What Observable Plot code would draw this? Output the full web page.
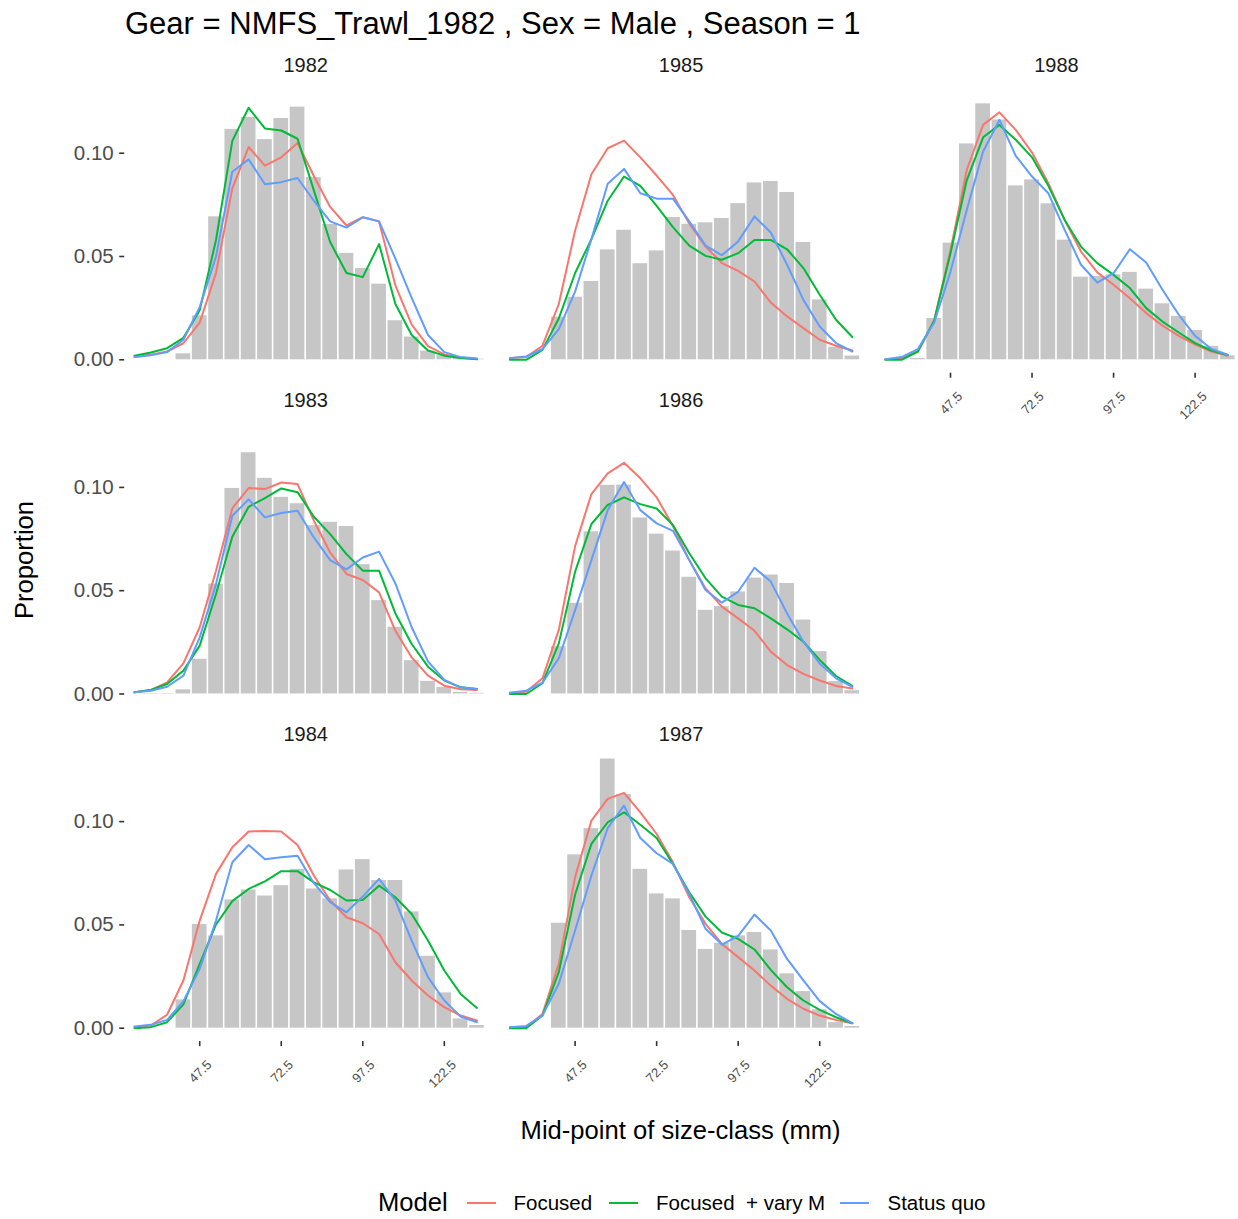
<!DOCTYPE html>
<html>
<head>
<meta charset="utf-8">
<script src="https://cdn.jsdelivr.net/npm/d3@7"></script>
<script src="https://cdn.jsdelivr.net/npm/@observablehq/plot@0.6"></script>
<style>
  body { margin: 0; background: #fff; font-family: "Liberation Sans", Arial, sans-serif; }
  #wrap { position: relative; width: 1238px; height: 1219px; overflow: hidden; }
  #title { position: absolute; left: 125px; top: 0; height: 48px; line-height: 48px; font-size: 31px; color: #000; white-space: nowrap; }
  #chart { position: absolute; left: 0; top: 48px; }
  #ylab { position: absolute; left: 25px; top: 560px; transform: translate(-50%, -50%) rotate(-90deg); font-size: 25.6px; line-height: 1; white-space: nowrap; color: #000; }
  #xlab { position: absolute; left: 680.6px; top: 1131px; transform: translate(-50%, -50%); font-size: 25.6px; line-height: 1; white-space: nowrap; color: #000; }
  .lg { position: absolute; top: 1203px; transform: translateY(-50%); line-height: 1; white-space: pre; color: #000; }
  .sw { position: absolute; top: 1202px; height: 2px; }
</style>
</head>
<body>
<div id="wrap">
  <div id="title">Gear = NMFS_Trawl_1982 , Sex = Male , Season = 1</div>
  <div id="chart"></div>
  <div id="ylab">Proportion</div>
  <div id="xlab">Mid-point of size-class (mm)</div>
  <div id="legend"></div>
</div>
<script>
// ---- data ----
const years = [1982, 1983, 1984, 1985, 1986, 1987, 1988];
const sizeMid = [27.5,32.5,37.5,42.5,47.5,52.5,57.5,62.5,67.5,72.5,77.5,82.5,87.5,92.5,97.5,102.5,107.5,112.5,117.5,122.5,127.5,132.5];
const xTicks = [47.5, 72.5, 97.5, 122.5];
const yTicks = [0, 0.05, 0.10];
const modelNames = ["Focused", "Focused  + vary M", "Status quo"];

const obs1982 = [0,0,0,0.0029,0.0213,0.0692,0.1115,0.1174,0.1066,0.1168,0.1223,0.0882,0.0655,0.0515,0.0442,0.0366,0.0189,0.011,0.0042,0.002,0.001,0.0003];
const foc1982 = [0.0013,0.0025,0.004,0.008,0.018,0.042,0.083,0.103,0.094,0.098,0.105,0.089,0.074,0.065,0.069,0.067,0.036,0.017,0.0066,0.0026,0.001,0.0005];
const vm1982  = [0.002,0.0035,0.0056,0.0106,0.024,0.058,0.106,0.122,0.112,0.111,0.107,0.082,0.057,0.042,0.040,0.056,0.027,0.012,0.0045,0.002,0.0008,0.0002];
const sq1982  = [0.0013,0.0022,0.0037,0.0097,0.0255,0.050,0.091,0.097,0.085,0.086,0.088,0.077,0.067,0.064,0.069,0.067,0.049,0.030,0.012,0.0037,0.0013,0.0006];

const obs1983 = [0,0.0002,0.0002,0.002,0.0168,0.0532,0.0995,0.1168,0.1044,0.0952,0.0921,0.0815,0.0831,0.0811,0.0626,0.0452,0.0323,0.0161,0.0061,0.0032,0.0008,0.0003];
const foc1983 = [0.0008,0.0019,0.0056,0.0148,0.0323,0.0597,0.0898,0.0997,0.0992,0.1024,0.1016,0.0839,0.0685,0.0581,0.0552,0.0492,0.0306,0.0177,0.0089,0.004,0.0023,0.0019];
const vm1983  = [0.0008,0.0019,0.0048,0.0113,0.0234,0.0484,0.0761,0.0906,0.0948,0.0995,0.0977,0.0858,0.0774,0.0677,0.0597,0.0597,0.039,0.0242,0.0132,0.0065,0.0032,0.0024];
const sq1983  = [0.0008,0.0016,0.0035,0.0089,0.0274,0.0532,0.0863,0.0942,0.0855,0.0876,0.0887,0.0758,0.0648,0.0603,0.0661,0.0689,0.0535,0.0323,0.0158,0.0068,0.0032,0.0024];

const obs1984 = [0,0,0,0.0137,0.0502,0.0447,0.0621,0.0669,0.064,0.069,0.0769,0.0674,0.0626,0.0766,0.0816,0.0715,0.0715,0.0563,0.0348,0.0171,0.0045,0.0013];
const foc1984 = [0.0005,0.0013,0.0065,0.0231,0.0521,0.0747,0.0876,0.0952,0.0955,0.0952,0.0887,0.0739,0.0618,0.0537,0.0508,0.0456,0.0319,0.0231,0.0158,0.0102,0.0061,0.0037];
const vm1984  = [0,0.0005,0.0029,0.0115,0.0311,0.0502,0.0615,0.0674,0.0711,0.076,0.076,0.0706,0.0669,0.0618,0.0621,0.069,0.0634,0.0553,0.0424,0.0279,0.0166,0.0098];
const sq1984  = [0.0008,0.0016,0.004,0.0131,0.0287,0.0521,0.0803,0.0887,0.0818,0.0827,0.0835,0.0702,0.061,0.0561,0.0637,0.0723,0.0618,0.0424,0.0247,0.0134,0.0056,0.0029];

const obs1985 = [0,0,0,0.0206,0.0303,0.0379,0.0532,0.0627,0.0465,0.0527,0.0689,0.0656,0.0663,0.0684,0.0756,0.0856,0.0863,0.081,0.0568,0.029,0.0061,0.0018];
const foc1985 = [0.0008,0.0013,0.0068,0.027,0.0626,0.0898,0.1024,0.1061,0.098,0.0892,0.0798,0.066,0.0548,0.0468,0.043,0.0379,0.0277,0.021,0.0153,0.0097,0.0068,0.0045];
const vm1985  = [0,0,0.0048,0.02,0.042,0.0584,0.077,0.0887,0.0842,0.0745,0.0642,0.0553,0.0503,0.0484,0.0516,0.058,0.058,0.0535,0.0444,0.0315,0.0194,0.011];
const sq1985  = [0.0008,0.0016,0.0052,0.0148,0.033,0.0584,0.0852,0.0924,0.0806,0.078,0.078,0.067,0.0553,0.0506,0.0573,0.0694,0.0616,0.046,0.029,0.0161,0.0081,0.004];

const obs1986 = [0,0,0,0.0229,0.0439,0.0785,0.101,0.1011,0.0852,0.0774,0.0692,0.0565,0.0405,0.0423,0.0494,0.0561,0.0576,0.0535,0.0358,0.0205,0.006,0.0016];
const foc1986 = [0.0006,0.0011,0.0076,0.031,0.0716,0.0968,0.1068,0.1119,0.1044,0.0952,0.0813,0.0648,0.0511,0.0423,0.0366,0.0306,0.0205,0.014,0.0097,0.0065,0.0039,0.0027];
const vm1986  = [0,0,0.0052,0.0245,0.0592,0.0823,0.0915,0.0952,0.0919,0.0898,0.0818,0.0681,0.056,0.0471,0.0431,0.0415,0.0366,0.0313,0.0253,0.0165,0.0087,0.0039];
const sq1986  = [0.0006,0.0016,0.0055,0.0173,0.0406,0.0648,0.089,0.1026,0.089,0.0826,0.079,0.0648,0.0503,0.0442,0.0495,0.0611,0.0544,0.039,0.0253,0.0148,0.0076,0.0035];

const obs1987 = [0,0,0,0.0508,0.0839,0.0966,0.1303,0.1131,0.0769,0.065,0.0626,0.0473,0.0381,0.0411,0.0447,0.0463,0.0379,0.0263,0.0177,0.0089,0.0027,0.0008];
const foc1987 = [0.0005,0.0005,0.0069,0.0311,0.0731,0.1005,0.111,0.1139,0.1045,0.094,0.0803,0.0634,0.0505,0.0408,0.0344,0.0279,0.0206,0.0142,0.0094,0.0061,0.004,0.0024];
const vm1987  = [0,0,0.0061,0.0271,0.0647,0.0892,0.0997,0.1045,0.0985,0.0921,0.0795,0.0658,0.054,0.0463,0.0432,0.0381,0.0282,0.0198,0.0134,0.0089,0.0053,0.0024];
const sq1987  = [0.0005,0.0011,0.0061,0.0215,0.0473,0.0739,0.0969,0.1077,0.0921,0.0847,0.0795,0.065,0.0481,0.0405,0.0447,0.055,0.0473,0.0335,0.0231,0.0131,0.0069,0.0024];

const obs1988 = [0,0,0.0006,0.02,0.0565,0.1045,0.1239,0.1161,0.0842,0.0871,0.0755,0.0579,0.04,0.0403,0.0411,0.0423,0.0342,0.0271,0.021,0.0142,0.0065,0.0019];
const foc1988 = [0.0002,0.0006,0.004,0.019,0.053,0.092,0.1137,0.1198,0.1113,0.1003,0.0855,0.0677,0.0524,0.0423,0.0363,0.0298,0.0226,0.0165,0.0116,0.0073,0.004,0.0019];
const vm1988  = [0,0,0.004,0.019,0.0516,0.087,0.1077,0.1137,0.1065,0.098,0.0842,0.0677,0.0548,0.0468,0.0411,0.0347,0.025,0.0185,0.0132,0.0081,0.0045,0.0023];
const sq1988  = [0.0003,0.0013,0.0052,0.018,0.0427,0.0726,0.1008,0.1161,0.0987,0.0887,0.0806,0.0629,0.046,0.0374,0.0419,0.0535,0.0471,0.0339,0.0218,0.0116,0.0052,0.0024];

const obsByYear = [obs1982, obs1983, obs1984, obs1985, obs1986, obs1987, obs1988];
const fitByYear = [
  [foc1982, vm1982, sq1982], [foc1983, vm1983, sq1983], [foc1984, vm1984, sq1984],
  [foc1985, vm1985, sq1985], [foc1986, vm1986, sq1986], [foc1987, vm1987, sq1987],
  [foc1988, vm1988, sq1988]
];

// ---- styles ----
const modelColors = ["#F8766D", "#00BA38", "#619CFF"];
const barFill = "#C6C6C6";
const font = "'Liberation Sans', Arial, sans-serif";

// ---- tables (facet_wrap, vertical direction, 3 per column) ----
const barRows = [], lineRows = [], stripRows = [];
years.forEach((yr, i) => {
  const col = Math.floor(i / 3), row = i % 3;
  stripRows.push({year: String(yr), col, row});
  sizeMid.forEach((m, k) => barRows.push({year: yr, col, row, mid: m, value: obsByYear[i][k]}));
  modelNames.forEach((name, j) => {
    sizeMid.forEach((m, k) => lineRows.push({year: yr, col, row, mid: m, model: name, value: fitByYear[i][j][k]}));
  });
});

const chart = Plot.plot({
  width: 1238,
  height: 1062,
  marginTop: 28.7,
  marginBottom: 68.9,
  marginLeft: 124.2,
  marginRight: 1,
  style: {fontFamily: font, background: "white", overflow: "visible"},
  fx: {domain: [0, 1, 2], paddingInner: 0.0357, paddingOuter: 0, round: false, axis: null},
  fy: {domain: [0, 1, 2], paddingInner: 0.1143, paddingOuter: 0, round: false, axis: null},
  x: {domain: [24.5, 135.5]},
  y: {domain: [-0.0065, 0.1368]},
  color: {domain: modelNames, range: modelColors},
  marks: [
    Plot.rect(barRows, {
      x1: d => d.mid - 2.5, x2: d => d.mid + 2.5, y1: 0, y2: "value",
      fx: "col", fy: "row", fill: barFill, insetLeft: 0.8, insetRight: 0.8
    }),
    Plot.line(lineRows, {
      x: "mid", y: "value", z: "model", stroke: "model", strokeWidth: 2,
      fx: "col", fy: "row"
    }),
    Plot.text(stripRows, {
      fx: "col", fy: "row", text: "year", frameAnchor: "top", dy: -19,
      fontSize: 20, fill: "#1A1A1A"
    }),
    Plot.axisY({
      ticks: yTicks, tickFormat: d => d.toFixed(2), tickSize: 5, tickPadding: 6,
      fontSize: 20.5, stroke: "#333333", strokeWidth: 1.6, fill: "#4D4D4D",
      facetAnchor: "left", label: null
    }),
    // x tick marks
    Plot.axisX({
      ticks: xTicks, tickSize: 5, stroke: "#333333", strokeWidth: 1.6, fill: "none",
      facetAnchor: "bottom-empty", label: null
    }),
    // x tick labels (rotated 45°)
    Plot.axisX({
      ticks: xTicks, tickFormat: d => d.toFixed(1), tickRotate: -45, tickSize: 0, tickPadding: 21,
      dx: 9.6, fontSize: 13, fill: "#4D4D4D",
      facetAnchor: "bottom-empty", label: null
    })
  ]
});
document.getElementById("chart").appendChild(chart);

// ---- legend ----
const legend = document.getElementById("legend");
const addText = (txt, left, size) => {
  const d = document.createElement("div");
  d.className = "lg"; d.textContent = txt;
  d.style.left = left + "px"; d.style.fontSize = size + "px";
  legend.appendChild(d);
};
const addSwatch = (color, left, w) => {
  const d = document.createElement("div");
  d.className = "sw"; d.style.left = left + "px"; d.style.width = w + "px"; d.style.background = color;
  legend.appendChild(d);
};
addText("Model", 378, 25.6);
const swLeft = [467, 609, 840];
const lbLeft = [513.5, 656, 887.5];
modelNames.forEach((name, j) => {
  addSwatch(modelColors[j], swLeft[j], 29);
  addText(name, lbLeft[j], 20.5);
});
</script>
</body>
</html>
